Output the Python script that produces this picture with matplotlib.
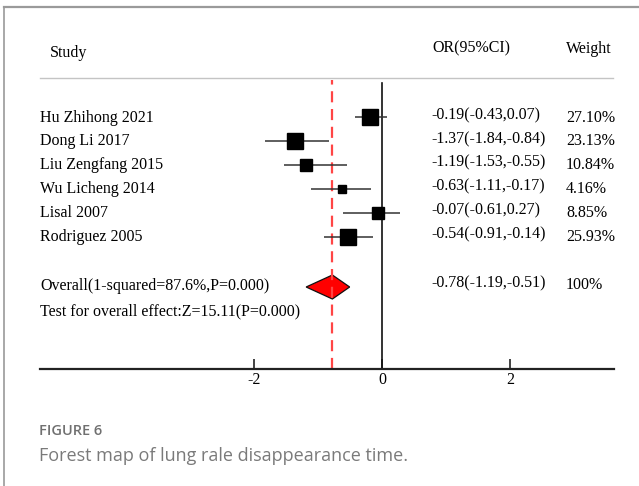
import numpy as np
import matplotlib
matplotlib.use("Agg")
import matplotlib.pyplot as plt
from matplotlib.patches import Polygon

# Study-level results
studies = ["Hu Zhihong 2021", "Dong Li 2017", "Liu Zengfang 2015",
           "Wu Licheng 2014", "Lisal 2007", "Rodriguez 2005"]
estimates = [-0.19, -1.37, -1.19, -0.63, -0.07, -0.54]
ci_low = [-0.43, -1.84, -1.53, -1.11, -0.61, -0.91]
ci_high = [0.07, -0.84, -0.55, -0.17, 0.27, -0.14]
weights = [27.10, 23.13, 10.84, 4.16, 8.85, 25.93]

# Pooled result
overall_est = -0.78
overall_low = -1.19
overall_high = -0.51
overall_label = "Overall(1-squared=87.6%,P=0.000)"
effect_label = "Test for overall effect:Z=15.11(P=0.000)"

x_ticks = [-2, 0, 2]
x_tick_labels = ["-2", "0", "2"]

W, H = 639, 486
fig = plt.figure(figsize=(W / 100, H / 100), dpi=100)
fig.patch.set_facecolor("white")

SERIF = ["Liberation Serif", "DejaVu Serif"]
SANS = ["Open Sans", "DejaVu Sans"]
FS = 11.5


def fx(x):
    return x / W


def fy(y):
    return 1 - y / H


# card frame: top and left rules
fig.add_artist(plt.Line2D([fx(4), 1], [fy(7), fy(7)], color="#9a9a9a", lw=1.6))
fig.add_artist(plt.Line2D([fx(4), fx(4)], [fy(7), 0], color="#9a9a9a", lw=1.2))

# plot region
left_px, right_px, top_px, bot_px = 40, 614, 80, 369
zero_px, unit_px = 382.3, 64.0
row0_px, row_step = 117.5, 23.9

ax = fig.add_axes([fx(left_px), fy(bot_px), (right_px - left_px) / W,
                   (bot_px - top_px) / H])
ax.set_xlim((left_px - zero_px) / unit_px, (right_px - zero_px) / unit_px)
ax.set_ylim((bot_px - row0_px) / row_step, (top_px - row0_px) / row_step)
ax.patch.set_alpha(0)
for s in ["top", "left", "right"]:
    ax.spines[s].set_visible(False)
ax.spines["bottom"].set_color("#222222")
ax.spines["bottom"].set_linewidth(1.6)
ax.set_yticks([])
ax.set_xticks(x_ticks)
ax.set_xticklabels(x_tick_labels, fontfamily=SERIF, fontsize=FS)
ax.tick_params(axis="x", direction="in", length=7.5, width=1.2,
               color="#222222", pad=2)

rows = np.arange(len(studies))

# reference lines
ax.axvline(0, ymin=0, ymax=(bot_px - 83) / (bot_px - top_px),
           color="#111111", lw=1.2)
ax.axvline(overall_est, color="#ff4545", lw=1.6, ls=(0, (5, 3)))

# confidence intervals and weighted boxes
ax.hlines(rows, ci_low, ci_high, color="#333333", lw=1.1)
sizes = 4 + 2.4 * np.sqrt(weights)
for r, e, s in zip(rows, estimates, sizes):
    ax.plot(e, r, marker="s", ms=s * 0.72, color="black", mec="black")

# pooled diamond
overall_row = (287 - row0_px) / row_step
half_h = 12 / row_step
diamond = Polygon([[overall_low, overall_row], [overall_est, overall_row - half_h],
                   [overall_high, overall_row], [overall_est, overall_row + half_h]],
                  closed=True, facecolor="#ff0000", edgecolor="#111111", lw=0.9)
ax.add_patch(diamond)

# header
fig.text(fx(50), fy(53), "Study", fontfamily=SERIF, fontsize=FS, va="center")
fig.text(fx(432), fy(48), "OR(95%CI)", fontfamily=SERIF, fontsize=FS, va="center")
fig.text(fx(566), fy(49), "Weight", fontfamily=SERIF, fontsize=FS, va="center")
fig.add_artist(plt.Line2D([fx(40), fx(613)], [fy(78), fy(78)],
                          color="#c4c4c4", lw=1.0))

# study rows
for i, (name, e, lo, hi, w) in enumerate(zip(studies, estimates, ci_low,
                                               ci_high, weights)):
    y = row0_px + row_step * i
    fig.text(fx(40), fy(y), name, fontfamily=SERIF, fontsize=FS, va="center")
    fig.text(fx(431), fy(y - 2.5), f"{e:.2f}({lo:.2f},{hi:.2f})",
             fontfamily=SERIF, fontsize=FS, va="center")
    fig.text(fx(566), fy(y), f"{w:.2f}%", fontfamily=SERIF, fontsize=FS,
             va="center")

# pooled rows
fig.text(fx(40), fy(286), overall_label, fontfamily=SERIF, fontsize=FS,
         va="center")
fig.text(fx(40), fy(311), effect_label, fontfamily=SERIF, fontsize=FS,
         va="center")
fig.text(fx(431), fy(283),
         f"{overall_est:.2f}({overall_low:.2f},{overall_high:.2f})",
         fontfamily=SERIF, fontsize=FS, va="center")
fig.text(fx(566), fy(285), "100%", fontfamily=SERIF, fontsize=FS, va="center")

# caption
fig.text(fx(39), fy(431), "FIGURE 6", fontfamily=SANS,
         fontsize=10.5, fontweight="semibold", color="#707070", va="center")
fig.text(fx(39), fy(456), "Forest map of lung rale disappearance time.",
         fontfamily=SANS, fontsize=13.0, fontweight="normal", color="#7a7a7a",
         va="center")

fig.savefig("out.png", dpi=100, facecolor="white")
